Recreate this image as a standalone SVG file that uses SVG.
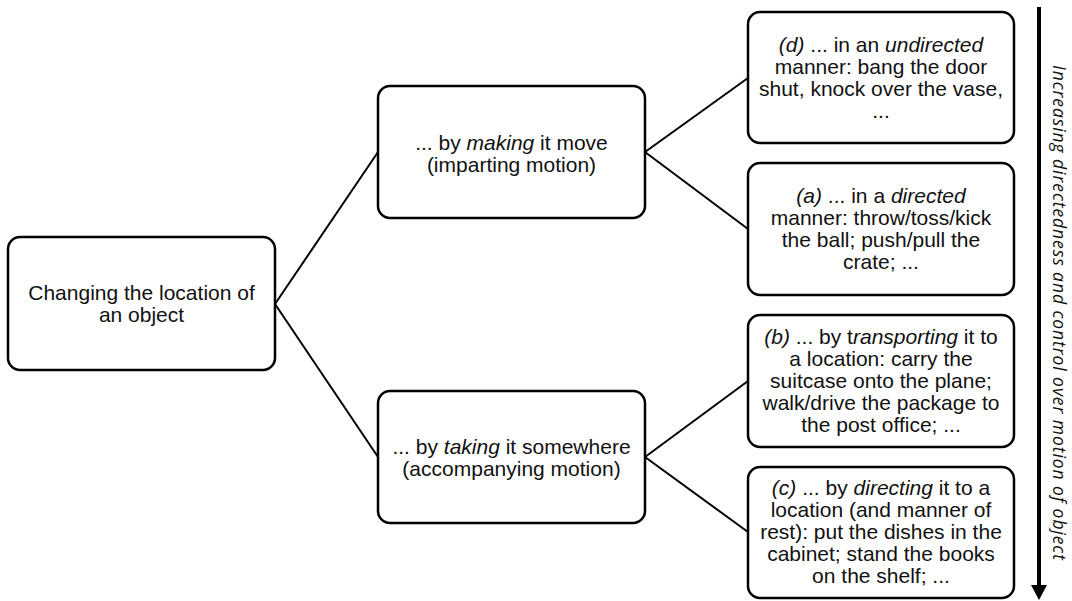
<svg xmlns="http://www.w3.org/2000/svg" width="1072" height="601" viewBox="0 0 1072 601">
<style>
.box{fill:#fff;stroke:#000;stroke-width:2.5}
.t{font-family:"Liberation Sans",Arial,sans-serif;font-size:21px;fill:#111;text-anchor:middle}
.i{font-style:italic}
.c{stroke:#000;stroke-width:2;fill:none}
.side{font-family:"Open Sans","Noto Sans",sans-serif;font-style:italic;font-size:17.5px;fill:#111;text-anchor:middle}
</style>
<rect width="1072" height="601" fill="#fff"/>
<g id="connectors">
<line class="c" x1="275" y1="304" x2="378" y2="152"/>
<line class="c" x1="275" y1="304" x2="378" y2="457"/>
<line class="c" x1="645" y1="152" x2="748" y2="78"/>
<line class="c" x1="645" y1="152" x2="748" y2="229"/>
<line class="c" x1="645" y1="457" x2="748" y2="381"/>
<line class="c" x1="645" y1="457" x2="748" y2="532"/>
</g>
<g id="root">
<rect class="box" x="8" y="237" width="267" height="133" rx="12"/>
<text class="t" x="141.5" y="300">Changing the location of</text>
<text class="t" x="141.5" y="322">an object</text>
</g>
<g id="making">
<rect class="box" x="378" y="86" width="267" height="132" rx="12"/>
<text class="t" x="511.5" y="150">... by <tspan class="i">making</tspan> it move</text>
<text class="t" x="511.5" y="172">(imparting motion)</text>
</g>
<g id="taking">
<rect class="box" x="378" y="391" width="267" height="132" rx="12"/>
<text class="t" x="511.5" y="454">... by <tspan class="i">taking</tspan> it somewhere</text>
<text class="t" x="511.5" y="476">(accompanying motion)</text>
</g>
<g id="d">
<rect class="box" x="748" y="12" width="266" height="131" rx="12"/>
<text class="t" x="881" y="52"><tspan class="i">(d)</tspan> ... in an <tspan class="i">undirected</tspan></text>
<text class="t" x="881" y="74">manner: bang the door</text>
<text class="t" x="881" y="96">shut, knock over the vase,</text>
<text class="t" x="881" y="118">...</text>
</g>
<g id="a">
<rect class="box" x="748" y="163" width="266" height="132" rx="12"/>
<text class="t" x="881" y="203"><tspan class="i">(a)</tspan> ... in a <tspan class="i">directed</tspan></text>
<text class="t" x="881" y="225">manner: throw/toss/kick</text>
<text class="t" x="881" y="247">the ball; push/pull the</text>
<text class="t" x="881" y="269">crate; ...</text>
</g>
<g id="b">
<rect class="box" x="748" y="315" width="266" height="132" rx="12"/>
<text class="t" x="881" y="344"><tspan class="i">(b)</tspan> ... by t<tspan class="i">ransporting</tspan> it to</text>
<text class="t" x="881" y="366">a location: carry the</text>
<text class="t" x="881" y="388">suitcase onto the plane;</text>
<text class="t" x="881" y="410">walk/drive the package to</text>
<text class="t" x="881" y="432">the post office; ...</text>
</g>
<g id="c">
<rect class="box" x="748" y="467" width="266" height="131" rx="12"/>
<text class="t" x="881" y="495"><tspan class="i">(c)</tspan> ... by <tspan class="i">directing</tspan> it to a</text>
<text class="t" x="881" y="517">location (and manner of</text>
<text class="t" x="881" y="539">rest): put the dishes in the</text>
<text class="t" x="881" y="561">cabinet; stand the books</text>
<text class="t" x="881" y="583">on the shelf; ...</text>
</g>
<g id="axis">
<line x1="1039" y1="7" x2="1039" y2="587" stroke="#000" stroke-width="4"/>
<polygon points="1031,585 1047,585 1039,600" fill="#000"/>
<text class="side" transform="translate(1053,312.5) rotate(90)" x="0" y="0" textLength="495">Increasing directedness and control over motion of object</text>
</g>
</svg>
